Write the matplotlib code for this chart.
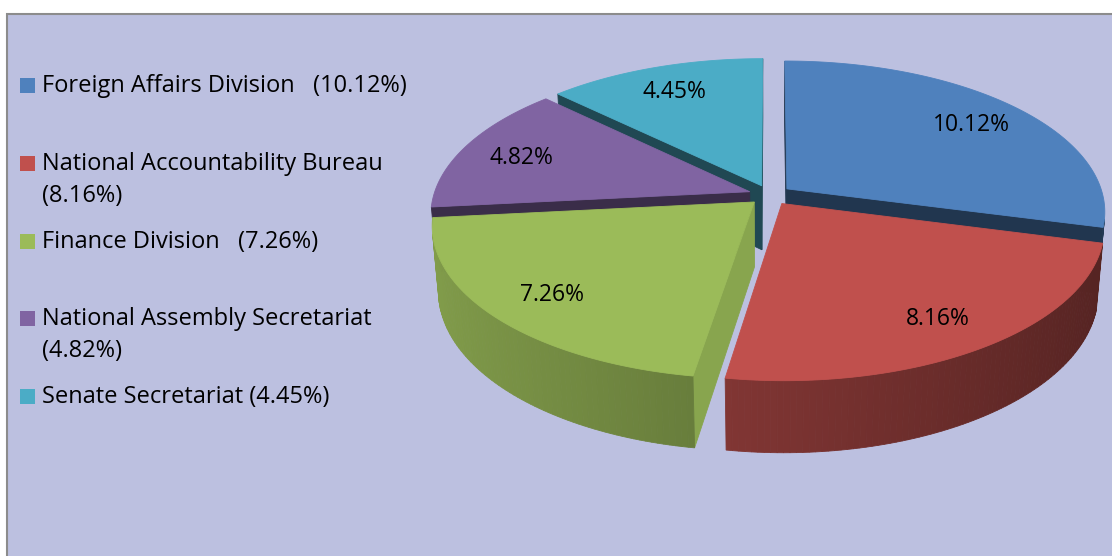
import numpy as np
import matplotlib
matplotlib.use("Agg")
import matplotlib.pyplot as plt
from matplotlib.patches import Polygon, Rectangle
import matplotlib.colors as mcolors

# data
divisions = ["Foreign Affairs Division", "National Accountability Bureau",
             "Finance Division", "National Assembly Secretariat",
             "Senate Secretariat"]
shares = [10.12, 8.16, 7.26, 4.82, 4.45]
legend_texts = ["Foreign Affairs Division   (10.12%)",
                "National Accountability Bureau\n(8.16%)",
                "Finance Division   (7.26%)",
                "National Assembly Secretariat\n(4.82%)",
                "Senate Secretariat (4.45%)"]
colors = ["#4F81BD", "#C0504D", "#9BBB59", "#8064A2", "#4BACC6"]
side_shade = [0.42, 0.45, 0.88, 0.45, 0.42]   # radial side walls

FONT = ["Open Sans", "DejaVu Sans"]
W, H = 1112, 556

fig = plt.figure(figsize=(W / 100, H / 100), dpi=100)
fig.patch.set_facecolor("white")
ax = fig.add_axes([0, 0, 1, 1])
ax.set_xlim(0, W)
ax.set_ylim(H, 0)
ax.axis("off")

# chart area
ax.add_patch(Rectangle((7, 14), W, H, facecolor="#BCC0E0",
                       edgecolor="#8c8c8c", lw=1.5, zorder=0))

# --- fake 3d pie with a small perspective camera ---
elev = np.radians(28)
dist = 6.0
thick = 0.235
explode = 0.068
cam = np.array([0.0, -dist * np.cos(elev), dist * np.sin(elev)])
fwd = -cam / np.linalg.norm(cam)
right = np.array([1.0, 0.0, 0.0])
up = np.cross(right, fwd)


def proj(P):
    d = np.atleast_2d(P) - cam
    z = d @ fwd
    return np.c_[(d @ right) / z, (d @ up) / z]


# fit projected unexploded pie into the pixel box
ring = np.c_[np.cos(np.linspace(0, 2 * np.pi, 361)),
             np.sin(np.linspace(0, 2 * np.pi, 361)), np.zeros(361)]
pr = proj(ring)
k = (1090 - 451) / (pr[:, 0].max() - pr[:, 0].min())
X0, Y0 = 770, 195


def to_px(P):
    p = proj(P)
    return np.c_[X0 + k * p[:, 0], Y0 - k * p[:, 1]]


def shade(c, f):
    r, g, b = mcolors.to_rgb(c)
    return (min(r * f, 1), min(g * f, 1), min(b * f, 1))


def visible(n, P):
    return np.dot(n, cam - P) > 0


total = sum(shares)
angles = np.cumsum([0] + [v / total * 2 * np.pi for v in shares])
slices = []
for i, v in enumerate(shares):
    th2 = np.pi / 2 - angles[i]        # clockwise from 12 o'clock
    th1 = np.pi / 2 - angles[i + 1]
    m = (th1 + th2) / 2
    o = explode * np.array([np.cos(m), np.sin(m), 0])
    depth = (o + 0.5 * np.array([np.cos(m), np.sin(m), 0]) - cam) @ fwd
    slices.append((depth, i, th1, th2, m, o))

slices.sort(key=lambda s: -s[0])
down = np.array([0, 0, -thick])
for depth, i, th1, th2, m, o in slices:
    c = colors[i]
    polys = []
    # radial walls
    for th, n in ((th1, np.array([np.sin(th1), -np.cos(th1), 0])),
                  (th2, np.array([-np.sin(th2), np.cos(th2), 0]))):
        e = o + np.array([np.cos(th), np.sin(th), 0])
        if visible(n, o):
            polys.append((np.array([o, e, e + down, o + down]),
                          shade(c, side_shade[i])))
    # outer wall
    ts = np.linspace(th1, th2, max(int(np.degrees(th2 - th1)), 2) + 1)
    for ta, tb in zip(ts[:-1], ts[1:]):
        tm = (ta + tb) / 2
        n = np.array([np.cos(tm), np.sin(tm), 0])
        pa = o + np.array([np.cos(ta), np.sin(ta), 0])
        pb = o + np.array([np.cos(tb), np.sin(tb), 0])
        if visible(n, pa):
            polys.append((np.array([pa, pb, pb + down, pa + down]),
                          shade(c, 0.64 - 0.2 * np.cos(tm))))
    # top face
    tt = np.linspace(th1, th2, 120)
    top = np.vstack([o, o + np.c_[np.cos(tt), np.sin(tt), np.zeros_like(tt)]])
    polys.append((top, mcolors.to_rgb(c)))
    for P, fc in polys:
        ax.add_patch(Polygon(to_px(P), closed=True, facecolor=fc,
                             edgecolor=fc, lw=0.6, zorder=2))
    lp = to_px(o + 0.8 * np.array([np.cos(m), np.sin(m), 0]))[0]
    ax.text(lp[0], lp[1] + 3, f"{shares[i]:.2f}%", ha="center", va="center",
            fontsize=16.5, family=FONT, color="black", zorder=5)

# --- legend ---
leg_y = [85, 163, 241, 318, 396]
for i, t in enumerate(legend_texts):
    y = leg_y[i]
    ax.add_patch(Rectangle((20, y - 7.5), 15, 15, facecolor=colors[i],
                           edgecolor="none", zorder=3))
    for j, line in enumerate(t.split("\n")):
        ax.text(42, y + 7 + 32 * j, line, ha="left", va="baseline",
                fontsize=17, family=FONT, color="black", zorder=3)

fig.savefig("out.png", dpi=100, facecolor=fig.get_facecolor())
